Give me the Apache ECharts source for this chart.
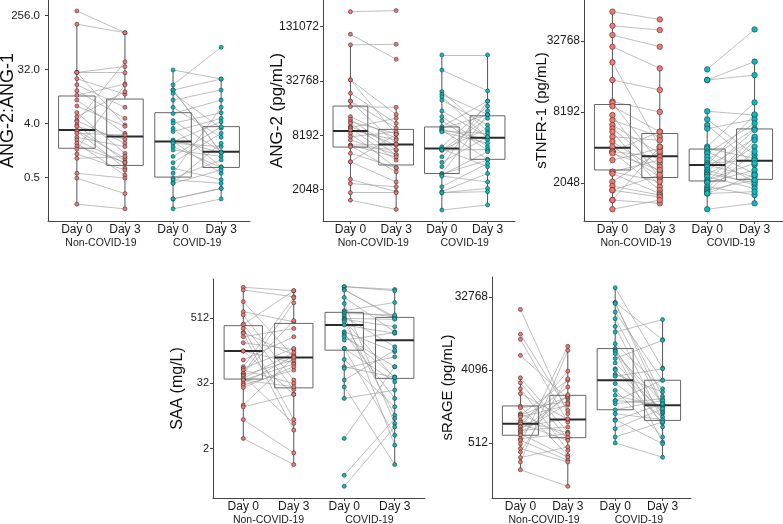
<!DOCTYPE html>
<html>
<head>
<meta charset="utf-8">
<script src="https://cdn.jsdelivr.net/npm/echarts@6/dist/echarts.min.js"></script>
<style>
  html, body { margin: 0; padding: 0; background: #fff; }
  #chart { width: 783px; height: 524px; }
</style>
</head>
<body>
<div id="chart"></div>
<script>
const dayLabels = ['Day 0', 'Day 3', 'Day 0', 'Day 3'];
const groupLabels = ['Non-COVID-19', 'COVID-19'];

// ANG-2:ANG-1 (paired by index, Day 0 -> Day 3)
const ratioNonCovidDay0 = [307, 184, 28.8, 28.8, 28.8, 22.6, 17.8, 14.2, 11.9, 9.9, 7.9, 6.1, 5.2, 4.5, 4.3, 3.8, 3.6, 3.1, 3.0, 2.75, 2.36, 2.13, 1.88, 1.68, 1.5, 1.24, 1.05, 0.59, 0.49, 0.18];
const ratioNonCovidDay3 = [133, 133, 28.4, 3.8, 36, 12.4, 7.5, 4.9, 18.4, 2.75, 3.6, 1.27, 13.7, 1.88, 43.4, 0.93, 2.19, 1.05, 0.72, 2.58, 1.65, 0.87, 0.55, 0.9, 17.8, 0.67, 1.13, 0.49, 0.27, 0.15];
const ratioCovidDay0 = [31.6, 17.8, 14.6, 14.6, 14.6, 12.9, 9.9, 7.5, 5.9, 4.5, 4.06, 3.34, 2.95, 2.13, 2.0, 2.0, 1.88, 1.65, 1.45, 1.13, 0.89, 0.72, 0.59, 0.49, 0.46, 0.41, 0.40, 0.22, 0.22, 0.15];
const ratioCovidDay3 = [22.3, 75.6, 22.3, 1.31, 1.31, 3.34, 14.6, 2.36, 9.9, 1.36, 6.1, 0.76, 4.9, 1.31, 0.59, 4.3, 1.65, 0.74, 1.13, 3.56, 2.75, 0.46, 7.5, 0.99, 0.40, 1.88, 0.67, 0.33, 0.33, 0.22];
// [lower whisker, Q1, median, Q3, upper whisker] per column
const ratioBoxes = [[0.18, 1.55, 3.14, 11.6, 184], [0.15, 0.8, 2.43, 10.3, 133], [0.15, 0.51, 2.0, 6.1, 31.6], [0.22, 0.74, 1.36, 3.56, 22.3]];
const ratioTicks = [0.5, 4, 32, 256];

// ANG-2 (pg/mL)
const ang2NonCovidDay0 = [191900, 107950, 82400, 33700, 33700, 23990, 19630, 19630, 17070, 13210, 12330, 11585, 11120, 10240, 10000, 9860, 9410, 8600, 7910, 7280, 6380, 6380, 6290, 6120, 5190, 4180, 4180, 2670, 2400, 1900, 1570];
const ang2NonCovidDay3 = [197300, 57050, 83550, 8420, 13970, 11120, 9860, 6560, 16730, 7590, 5630, 8600, 4970, 6380, 12680, 4360, 7280, 3590, 8960, 5040, 6560, 4740, 3230, 5710, 3590, 2500, 8420, 1950, 2210, 1900, 1240];
const ang2CovidDay0 = [63740, 43250, 25010, 23330, 21920, 20170, 15290, 13210, 11900, 10220, 9800, 9540, 9410, 9150, 8960, 6120, 5790, 5630, 5630, 5630, 4740, 4120, 3690, 3100, 3060, 2980, 2900, 2210, 1950, 1900, 1900, 1220];
const ang2CovidDay3 = [63740, 25530, 9150, 13970, 7700, 10660, 7910, 6120, 5630, 19630, 13780, 7280, 4450, 8600, 6700, 17300, 3690, 5710, 12680, 9800, 15290, 7910, 19630, 13970, 4360, 5400, 2500, 4010, 3100, 2120, 1950, 1390];
const ang2Boxes = [[1570, 6080, 9150, 17300, 82400], [1240, 3850, 6510, 9540, 16730], [1220, 3100, 5870, 10160, 63740], [1390, 4450, 7700, 13490, 63740]];
const ang2Ticks = [2048, 8192, 32768, 131072];

// sTNFR-1 (pg/mL)
const tnfrNonCovidDay0 = [58250, 44150, 36870, 29330, 21620, 15290, 10020, 9800, 9150, 7700, 6980, 6330, 5910, 5560, 5040, 4580, 4150, 3770, 3770, 3770, 3640, 3190, 2540, 2540, 2450, 2090, 1920, 1770, 1770, 1460, 1460, 1220];
const tnfrNonCovidDay3 = [50010, 40630, 29330, 19220, 4150, 12590, 8190, 3000, 5560, 2230, 5040, 3640, 2800, 1900, 4700, 2540, 2300, 5560, 3400, 1770, 2630, 4010, 2090, 3190, 1660, 3770, 1610, 2390, 1550, 4150, 1370, 1460];
const tnfrCovidDay0 = [18820, 15290, 15290, 8300, 7080, 6330, 5910, 4150, 4010, 3770, 3640, 3400, 3190, 3000, 2900, 2900, 2800, 2630, 2540, 2450, 2390, 2300, 2160, 2090, 2050, 1900, 1830, 1770, 1720, 1660, 1660, 1220];
const tnfrCovidDay3 = [41190, 21920, 16840, 7700, 3520, 2900, 7080, 9870, 3300, 2450, 6560, 2090, 5910, 3190, 7800, 2300, 4870, 1950, 5750, 2050, 4150, 1830, 3000, 5040, 2630, 1610, 4700, 2160, 3770, 2390, 1720, 1370];
const tnfrBoxes = [[1220, 2630, 4070, 9470, 58250], [1370, 2270, 3440, 5370, 19220], [1220, 2120, 2900, 3960, 8300], [1370, 2190, 3150, 5870, 21920]];
const tnfrTicks = [2048, 8192, 32768];

// SAA (mg/L)
const saaNonCovidDay0 = [1924, 1710, 1045, 680, 592, 396, 396, 333, 282, 271, 234, 181, 127, 127, 87, 65.3, 60.6, 56.5, 49.2, 49.2, 45.6, 43.7, 39.7, 37, 37, 32, 29.9, 26.9, 12.7, 11.8, 6.87, 3.07];
const saaNonCovidDay3 = [1663, 1287, 99.7, 443, 37, 1663, 24.8, 6.87, 107, 4.38, 333, 136, 20.3, 77.2, 234, 1235, 142, 32, 465, 996, 87, 5.82, 119, 73, 27.7, 103, 56.5, 65.3, 97, 20, 1.66, 1.01];
const saaCovidDay0 = [1978, 1978, 1758, 1710, 1252, 969, 709, 680, 635, 592, 549, 512, 491, 478, 443, 385, 290, 271, 251, 234, 204, 142, 142, 89, 65.3, 60.6, 37, 27.7, 16.9, 3.07, 0.64, 0.4];
const saaCovidDay3 = [1758, 1663, 512, 549, 290, 5.82, 1010, 549, 592, 2.31, 153, 491, 360, 39.7, 8.28, 271, 124, 16.9, 42.5, 65.3, 278, 34.3, 3.53, 11.8, 41.4, 99.7, 132, 1.01, 24.1, 65.3, 7.2, 5.03];
const saaBoxes = [[3.07, 38.6, 127, 375, 1924], [1.01, 26.5, 97, 413, 1663], [16.9, 132, 385, 662, 1978], [1.01, 39.7, 201, 534, 1758]];
const saaTicks = [2, 32, 512];

// sRAGE (pg/mL)
const rageNonCovidDay0 = [23000, 11350, 9800, 6210, 3280, 2840, 2400, 2090, 1460, 1400, 1180, 1140, 1130, 1075, 975, 930, 885, 820, 810, 750, 734, 700, 666, 639, 580, 553, 501, 437, 396, 338, 298, 239];
const rageNonCovidDay3 = [1180, 1300, 930, 1810, 700, 580, 416, 1003, 360, 1640, 609, 3060, 1900, 1500, 685, 2520, 553, 3960, 1024, 1940, 810, 1570, 342, 2030, 666, 313, 8030, 298, 3190, 458, 7180, 149];
const rageCovidDay0 = [42640, 27940, 27940, 27170, 21320, 17670, 14160, 12070, 8660, 7540, 7180, 6980, 6510, 5670, 5010, 4240, 4120, 3620, 3420, 2780, 2290, 1990, 1720, 1700, 1570, 1320, 1180, 996, 975, 771, 609, 512];
const rageCovidDay3 = [4330, 9740, 1500, 1940, 3060, 1460, 975, 17200, 2400, 810, 1180, 526, 1640, 9540, 1230, 904, 1300, 2190, 4240, 1075, 609, 1430, 1530, 3060, 1810, 1720, 996, 501, 1570, 1360, 930, 342];
const rageBoxes = [[239, 639, 885, 1470, 3280], [149, 596, 1003, 1990, 8030], [512, 1320, 3060, 7540, 42640], [342, 975, 1500, 3060, 17200]];
const rageTicks = [512, 4096, 32768];

const nonCovidColor = '#F8766D';
const covidColor = '#00BFC4';

const panels = [
  { title: 'ANG-2:ANG-1', nc: [ratioNonCovidDay0, ratioNonCovidDay3], c: [ratioCovidDay0, ratioCovidDay3], boxes: ratioBoxes, ticks: ratioTicks,
    grid: { left: 48, top: 0, width: 202, height: 221 }, yMin: 0.094, yMax: 468, nameSize: 18, nameGap: 31, tickSize: 11.5, tickFont: 'Liberation Sans Narrow, Arial Narrow, Liberation Sans, sans-serif', tickMargin: 8, dot: 4, decimals: 1 },
  { title: 'ANG-2 (pg/mL)', nc: [ang2NonCovidDay0, ang2NonCovidDay3], c: [ang2CovidDay0, ang2CovidDay3], boxes: ang2Boxes, ticks: ang2Ticks,
    grid: { left: 323, top: 0, width: 192, height: 221 }, yMin: 923, yMax: 258500, nameSize: 17, nameGap: 37, tickSize: 12, tickMargin: 4, dot: 4, decimals: 0 },
  { title: 'sTNFR-1 (pg/mL)', nc: [tnfrNonCovidDay0, tnfrNonCovidDay3], c: [tnfrCovidDay0, tnfrCovidDay3], boxes: tnfrBoxes, ticks: tnfrTicks,
    grid: { left: 584, top: 0, width: 199, height: 221 }, yMin: 969, yMax: 73200, nameSize: 15, nameGap: 35, tickSize: 12, tickMargin: 4, dot: 5.5, decimals: 0 },
  { title: 'SAA (mg/L)', nc: [saaNonCovidDay0, saaNonCovidDay3], c: [saaCovidDay0, saaCovidDay3], boxes: saaBoxes, ticks: saaTicks,
    grid: { left: 213, top: 279, width: 212, height: 219 }, yMin: 0.243, yMax: 2740, nameSize: 16, nameGap: 27, tickSize: 11, tickMargin: 4, dot: 4, decimals: 0 },
  { title: 'sRAGE (pg/mL)', nc: [rageNonCovidDay0, rageNonCovidDay3], c: [rageCovidDay0, rageCovidDay3], boxes: rageBoxes, ticks: rageTicks,
    grid: { left: 492, top: 277, width: 199, height: 221 }, yMin: 107, yMax: 57840, nameSize: 15, nameGap: 37, tickSize: 12, tickMargin: 4, dot: 4, decimals: 0 }
];

const boxWidth = 0.76;
const axisColor = '#444';

function renderBox(params, api) {
  const x = api.value(0);
  const lo = api.coord([x, api.value(1)]);
  const q1 = api.coord([x, api.value(2)]);
  const md = api.coord([x, api.value(3)]);
  const q3 = api.coord([x, api.value(4)]);
  const hi = api.coord([x, api.value(5)]);
  const left = api.coord([x - boxWidth / 2, api.value(3)])[0];
  const right = api.coord([x + boxWidth / 2, api.value(3)])[0];
  const stroke = { stroke: '#555', lineWidth: 1, fill: null };
  return {
    type: 'group',
    children: [
      { type: 'line', shape: { x1: lo[0], y1: lo[1], x2: q1[0], y2: q1[1] }, style: stroke },
      { type: 'line', shape: { x1: q3[0], y1: q3[1], x2: hi[0], y2: hi[1] }, style: stroke },
      { type: 'rect', shape: { x: left, y: q3[1], width: right - left, height: q1[1] - q3[1] }, style: { stroke: '#666', lineWidth: 1, fill: 'rgba(0,0,0,0)' } },
      { type: 'line', shape: { x1: left, y1: md[1], x2: right, y2: md[1] }, style: { stroke: '#2b2b2b', lineWidth: 2 } }
    ]
  };
}

const grids = [], xAxes = [], yAxes = [], series = [];

panels.forEach((p, i) => {
  grids.push(Object.assign({ outerBoundsMode: 'none', containLabel: false }, p.grid));
  const xBase = { gridIndex: i, type: 'value', min: 0.4, max: 4.6, position: 'bottom', splitLine: { show: false } };
  xAxes.push(Object.assign({}, xBase, {
    axisLine: { show: true, lineStyle: { color: axisColor } },
    axisTick: { show: true, customValues: [1, 2, 3, 4], length: 3, lineStyle: { color: axisColor } },
    axisLabel: { customValues: [1, 2, 3, 4], formatter: v => dayLabels[Math.round(v) - 1], fontSize: 12, color: '#1a1a1a', margin: 3 }
  }));
  xAxes.push(Object.assign({}, xBase, {
    axisLine: { show: false },
    axisTick: { show: false },
    axisLabel: { customValues: [1.5, 3.5], formatter: v => groupLabels[v < 2.5 ? 0 : 1], fontSize: 10.5, color: '#1a1a1a', margin: 17 }
  }));
  const tickLabel = {
    customValues: p.ticks,
    formatter: v => p.decimals ? Number(v).toFixed(1) : String(Math.round(v)),
    fontSize: p.tickSize, color: '#1a1a1a', margin: p.tickMargin
  };
  if (p.tickFont) tickLabel.fontFamily = p.tickFont;
  yAxes.push({
    gridIndex: i, type: 'log', logBase: 2, min: p.yMin, max: p.yMax,
    name: p.title, nameLocation: 'middle', nameGap: p.nameGap, nameRotate: 90,
    nameMoveOverlap: false,
    nameTextStyle: { fontSize: p.nameSize, color: '#111' },
    axisLine: { show: true, lineStyle: { color: axisColor } },
    axisTick: { show: true, customValues: p.ticks, length: 3, lineStyle: { color: axisColor } },
    axisLabel: tickLabel,
    splitLine: { show: false },
    minorTick: { show: false }
  });

  const xi = i * 2;
  const pairLines = [];
  p.nc[0].forEach((v, k) => pairLines.push({ coords: [[1, v], [2, p.nc[1][k]]] }));
  p.c[0].forEach((v, k) => pairLines.push({ coords: [[3, v], [4, p.c[1][k]]] }));
  series.push({
    type: 'lines', coordinateSystem: 'cartesian2d', xAxisIndex: xi, yAxisIndex: i,
    data: pairLines, silent: true, z: 2,
    lineStyle: { color: '#999', width: 0.7, opacity: 0.9 }
  });

  series.push({
    type: 'custom', xAxisIndex: xi, yAxisIndex: i, z: 3, silent: true,
    renderItem: renderBox,
    encode: { x: 0, y: [1, 2, 3, 4, 5] },
    data: p.boxes.map((b, k) => [k + 1].concat(b))
  });

  const dotStyle = color => ({ color: color, borderColor: '#333', borderWidth: 0.6, opacity: 1 });
  series.push({
    type: 'scatter', xAxisIndex: xi, yAxisIndex: i, z: 4, symbolSize: p.dot,
    itemStyle: dotStyle(nonCovidColor),
    data: p.nc[0].map(v => [1, v]).concat(p.nc[1].map(v => [2, v]))
  });
  series.push({
    type: 'scatter', xAxisIndex: xi, yAxisIndex: i, z: 4, symbolSize: p.dot,
    itemStyle: dotStyle(covidColor),
    data: p.c[0].map(v => [3, v]).concat(p.c[1].map(v => [4, v]))
  });
});

const chart = echarts.init(document.getElementById('chart'));
chart.setOption({
  animation: false,
  backgroundColor: '#fff',
  textStyle: { fontFamily: 'Liberation Sans, Arial, Helvetica, sans-serif' },
  grid: grids,
  xAxis: xAxes,
  yAxis: yAxes,
  series: series
});

window.addEventListener('resize', () => {
  chart.resize();
});
</script>
</body>
</html>
